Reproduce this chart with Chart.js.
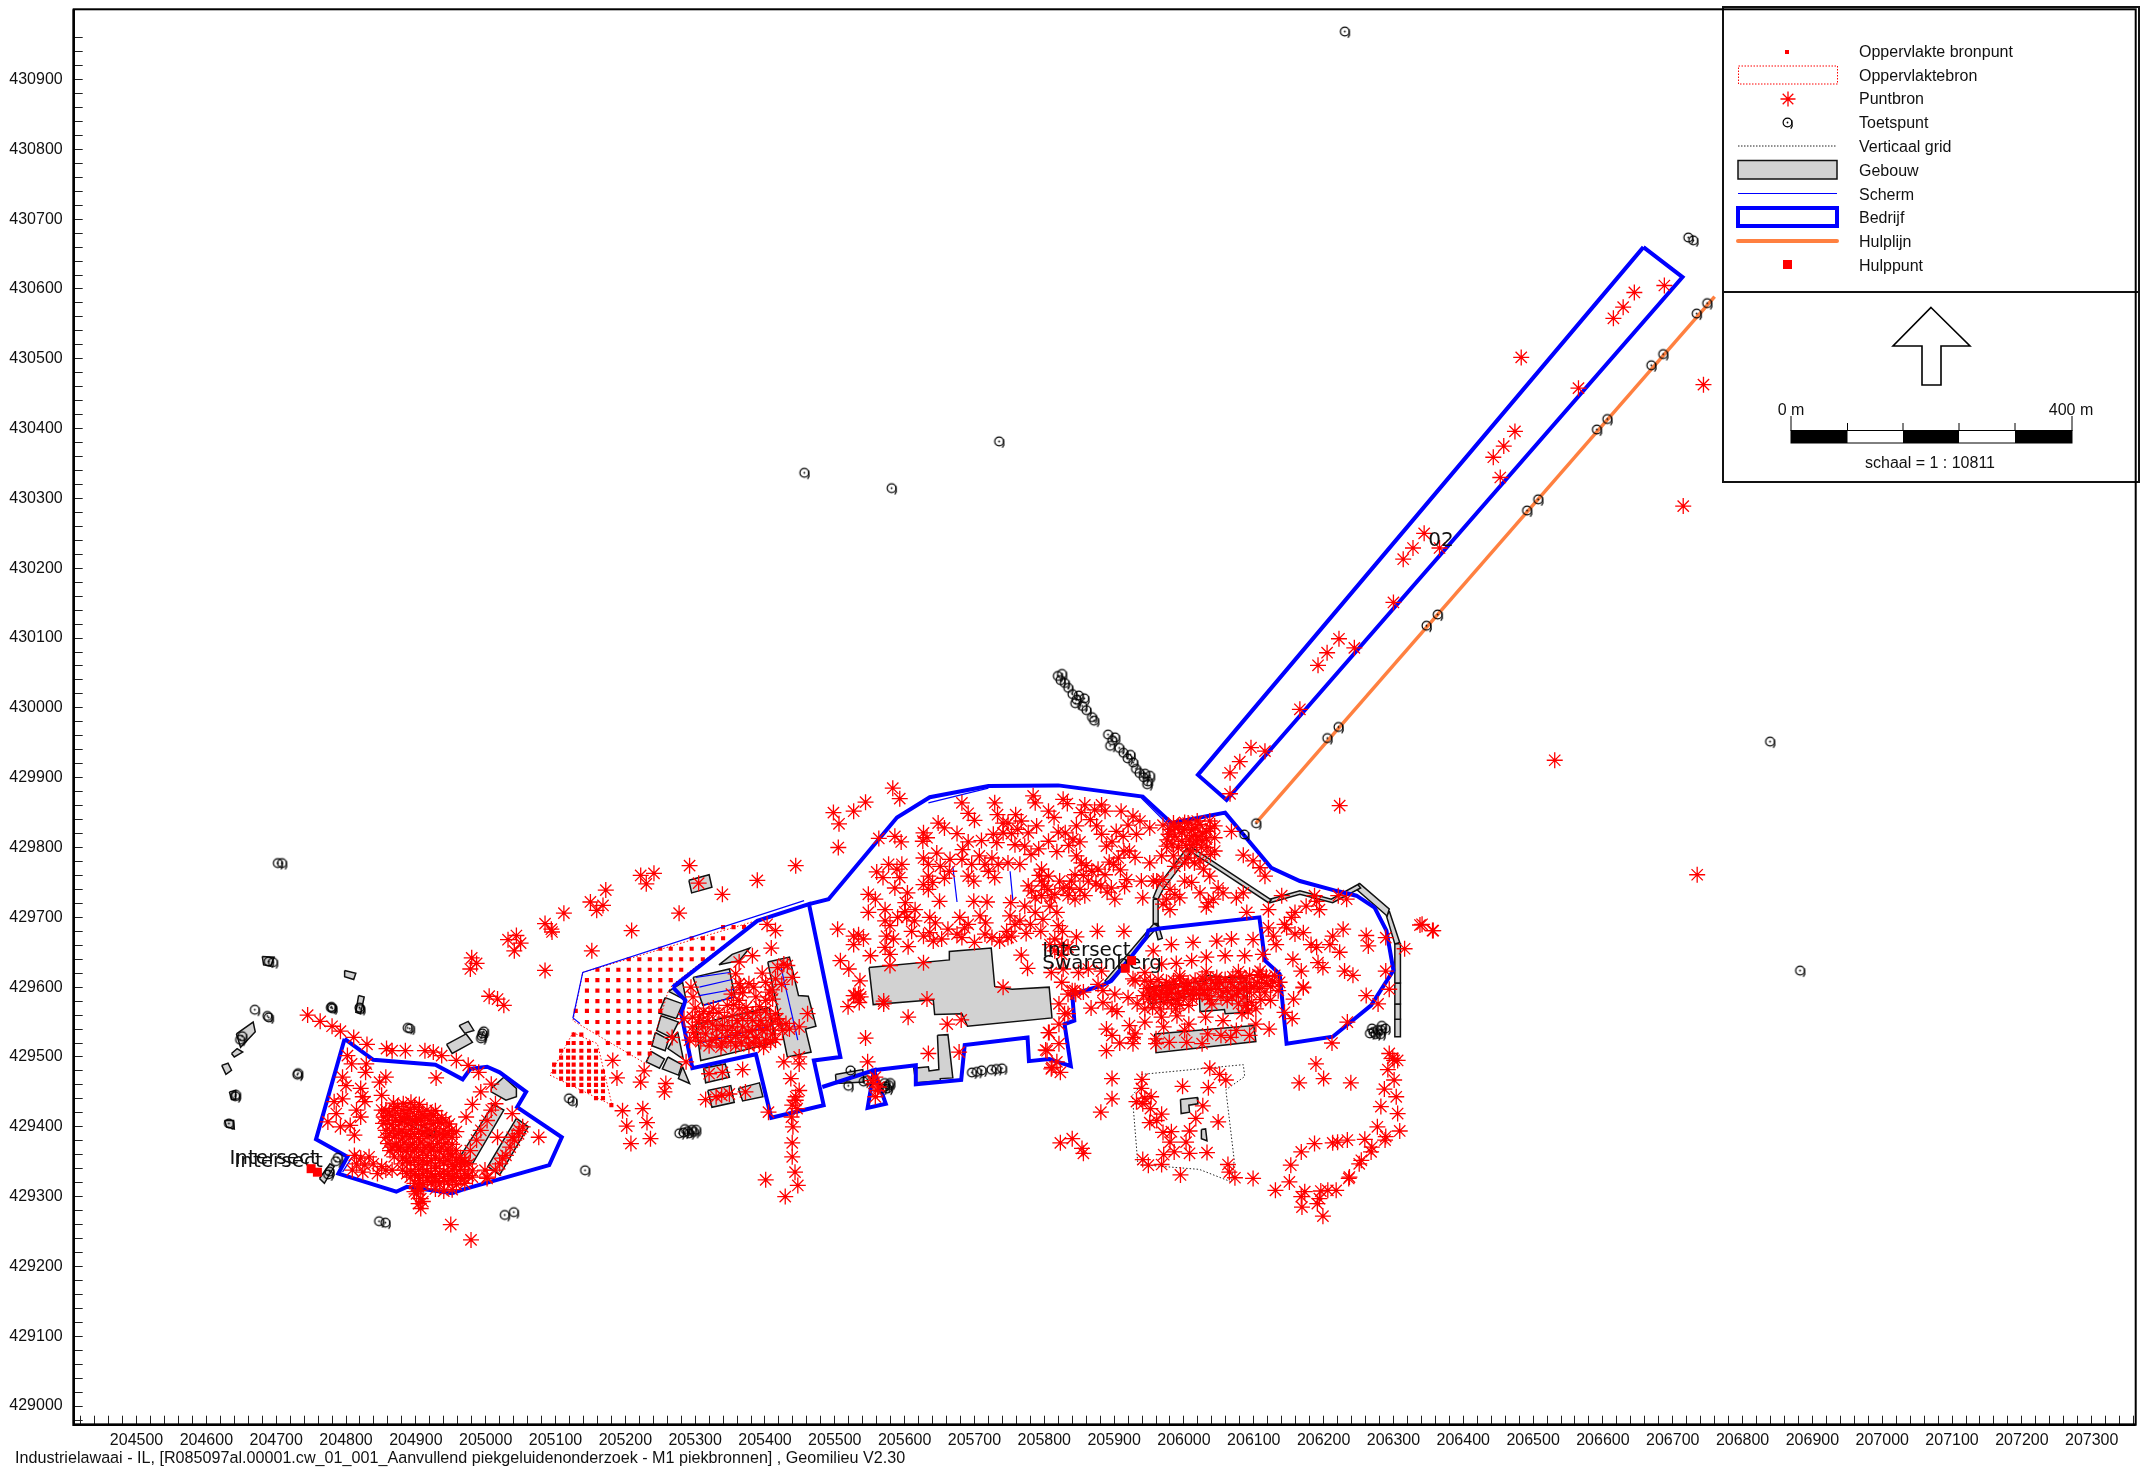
<!DOCTYPE html>
<html>
<head>
<meta charset="utf-8">
<title>Industrielawaai</title>
<script src="https://cdn.jsdelivr.net/npm/chart.js@4/dist/chart.umd.js"></script>
<style>
  html, body { margin: 0; padding: 0; background: #fff; }
  canvas { display: block; }
</style>
</head>
<body>
<canvas id="kaart" width="2145" height="1470"></canvas>
<script>
const xTickEvery = 100;
const yTickEvery = 100;
const yLastTick = 430960;
const footerText = "Industrielawaai - IL, [R085097al.00001.cw_01_001_Aanvullend piekgeluidenonderzoek - M1 piekbronnen] , Geomilieu V2.30";
const legendLabels = ["Oppervlakte bronpunt", "Oppervlaktebron", "Puntbron", "Toetspunt", "Verticaal grid", "Gebouw", "Scherm", "Bedrijf", "Hulplijn", "Hulppunt"];
const mapTexts = ["Intersect", "Intersect", "Intersect", "Swarenberg", "02"];
const mapTextX = [204633, 204640, 205797, 205797, 206350];
const mapTextY = [429347, 429342, 429645, 429626, 430232];

// bedrijf
const bedrijfWest = [[204798,429526],[204839,429496],[204928,429489],[204967,429468],[204978,429483],[205002,429486],[205020,429478],[205058,429450],[205045,429428],[205109,429385],[205091,429345],[204967,429310],[204952,429305],[204887,429314],[204872,429307],[204789,429333],[204802,429357],[204757,429382],[204798,429526]];
const bedrijfMidden = [[205268,429600],[205389,429695],[205463,429719],[205508,429500],[205470,429495],[205484,429431],[205409,429413],[205387,429504],[205296,429484],[205280,429562],[205286,429581],[205268,429600]];
const bedrijfGroot = [[205463,429719],[205491,429726],[205589,429843],[205636,429872],[205720,429888],[205820,429889],[205941,429873],[205982,429835],[206059,429850],[206125,429771],[206166,429752],[206218,429738],[206247,429731],[206273,429714],[206290,429681],[206300,429624],[206268,429574],[206213,429529],[206147,429519],[206137,429619],[206116,429638],[206108,429700],[205965,429684],[205949,429681],[205946,429671],[205920,429638],[205896,429609],[205882,429602],[205840,429590],[205843,429552],[205829,429547],[205838,429487],[205807,429497],[205778,429494],[205776,429528],[205686,429517],[205681,429467],[205616,429461],[205616,429488],[205556,429481],[205573,429433],[205547,429427],[205556,429481],[205482,429457]];
const bedrijfStrook = [[206658,430660],[206714,430617],[206061,429868],[206020,429904],[206658,430660]];
const hulplijn = [[206103,429835],[206760,430589]];

// scherm
const schermLijnen = [
  [[205456,429724],[205139,429621],[205125,429556],[205135,429548]],
  [[205301,429614],[205349,429621]],
  [[205306,429600],[205353,429611]],
  [[205306,429588],[205356,429597]],
  [[205311,429574],[205356,429586]],
  [[205311,429521],[205411,429545]],
  [[205423,429628],[205447,429524]],
  [[205669,429773],[205675,429722]],
  [[205751,429766],[205755,429724]],
  [[205634,429864],[205720,429885]],
  [[205939,429871],[205977,429833],[205975,429795]],
  [[205987,429833],[206044,429848]],
  [[204809,429357],[204795,429335]]
];

// gebouwen
const gebouwen = [
  [[205549,429628],[205664,429639],[205664,429651],[205724,429656],[205729,429601],[205754,429597],[205807,429600],[205811,429556],[205690,429544],[205682,429562],[205643,429561],[205641,429582],[205555,429575]],
  [[205647,429531],[205662,429532],[205669,429470],[205651,429469],[205651,429466],[205616,429463],[205613,429484],[205634,429486],[205635,429480],[205649,429482]],
  [[205501,429475],[205540,429482],[205542,429464],[205502,429462]],
  [[205958,429533],[206100,429545],[206103,429522],[205960,429506]],
  [[205949,429600],[206031,429609],[206032,429617],[206059,429614],[206089,429613],[206092,429564],[206059,429562],[206058,429568],[206023,429565],[206022,429590],[205952,429576]],
  [[205995,429439],[206019,429442],[206020,429433],[206007,429431],[206008,429421],[205996,429419]],
  [[206025,429396],[206031,429397],[206033,429380],[206025,429383]],
  [[206010,429801],[206125,429725],[206121,429721],[206007,429796]],
  [[206123,429726],[206166,429738],[206211,429726],[206249,429747],[206253,429742],[206213,429721],[206166,429733],[206123,429721]],
  [[206251,429749],[206294,429712],[206291,429702],[206247,429740]],
  [[206294,429709],[206309,429664],[206302,429662],[206290,429702]],
  [[206302,429662],[206310,429662],[206310,429606],[206302,429606]],
  [[206302,429606],[206310,429606],[206310,429576],[206302,429576]],
  [[206302,429576],[206310,429576],[206310,429554],[206302,429554]],
  [[206302,429554],[206310,429554],[206310,429529],[206302,429529]],
  [[206004,429799],[206010,429793],[205970,429740],[205963,429726],[205956,429728],[205963,429745]],
  [[205956,429726],[205963,429726],[205963,429691],[205956,429691]],
  [[205957,429691],[205963,429687],[205942,429664],[205890,429606],[205887,429609],[205938,429669]],
  [[205958,429688],[205963,429690],[205969,429670],[205963,429668]],
  [[205404,429636],[205435,429643],[205448,429588],[205462,429587],[205473,429544],[205458,429540],[205466,429507],[205432,429500]],
  [[205297,429614],[205349,429626],[205357,429586],[205311,429574]],
  [[205301,429547],[205406,429571],[205416,429521],[205308,429495]],
  [[205334,429632],[205353,429647],[205378,429656],[205363,429638]],
  [[205291,429753],[205320,429761],[205324,429743],[205295,429735]],
  [[205262,429594],[205282,429607],[205287,429581]],
  [[205257,429585],[205282,429576],[205273,429555],[205248,429563]],
  [[205251,429559],[205276,429550],[205265,429528],[205245,429538]],
  [[205243,429535],[205262,429525],[205257,429509],[205238,429516]],
  [[205237,429508],[205256,429497],[205249,429484],[205230,429493]],
  [[205261,429500],[205281,429489],[205276,429474],[205253,429483]],
  [[205275,429536],[205283,429497],[205261,429512]],
  [[205282,429486],[205292,429462],[205276,429469]],
  [[205312,429484],[205343,429490],[205349,429471],[205315,429463]],
  [[205318,429452],[205351,429459],[205356,429435],[205324,429428]],
  [[205362,429455],[205392,429463],[205397,429443],[205368,429437]],
  [[204944,429518],[204972,429533],[204981,429521],[204952,429505]],
  [[204962,429545],[204975,429551],[204983,429538],[204970,429534]],
  [[205008,429455],[205026,429471],[205044,429455],[205044,429443],[205029,429438],[205008,429450]],
  [[205011,429432],[205026,429424],[204981,429347],[204962,429355]],
  [[205044,429412],[205061,429400],[205020,429331],[205003,429343]],
  [[204880,429415],[204928,429392],[204925,429385],[204878,429409]],
  [[204798,429624],[204814,429620],[204811,429611],[204798,429615]],
  [[204680,429644],[204697,429643],[204692,429630],[204682,429632]],
  [[204818,429588],[204826,429586],[204821,429562],[204814,429564]],
  [[204643,429533],[204667,429550],[204670,429536],[204649,429514]],
  [[204636,429505],[204644,429512],[204652,429507],[204640,429500]],
  [[204622,429488],[204631,429491],[204636,429481],[204628,429475]],
  [[204633,429450],[204642,429452],[204642,429439],[204636,429439]],
  [[204626,429409],[204639,429409],[204640,429397],[204629,429400]],
  [[204762,429326],[204777,429347],[204783,429343],[204769,429319]]
];

const verticaalGrid = [[205939,429475],[206085,429489],[206087,429472],[206060,429453],[206072,429352],[206068,429321],[206022,429339],[205934,429346],[205926,429445],[205939,429460],[205939,429475]];
const oppervlakBron1 = [[205139,429621],[205387,429695],[205268,429604],[205261,429593],[205230,429490],[205125,429552],[205139,429621]];
const oppervlakBron2 = [[205125,429535],[205160,429519],[205181,429431],[205092,429474],[205125,429535]];

const bronpuntRijY = [429686,429670,429655,429640,429625,429610,429595,429580,429566,429550,429535,429520,429505,429532,429520,429509,429499,429489,429479,429469,429460,429451,429441,429431];
const bronpuntRijX = [
  [205340,205355,205370],
  [205295,205311,205325,205340],
  [205250,205265,205280,205295,205311,205325],
  [205205,205220,205235,205250,205265,205280,205295,205311],
  [205160,205175,205190,205205,205220,205235,205250,205265,205280],
  [205145,205160,205175,205190,205205,205220,205235,205250,205265],
  [205145,205160,205175,205190,205205,205220,205235,205250],
  [205145,205160,205175,205190,205205,205220,205235,205250],
  [205129,205145,205160,205175,205190,205205,205220,205235,205250],
  [205145,205160,205175,205190,205205,205220,205235],
  [205160,205175,205190,205205,205220,205235],
  [205175,205190,205205,205220,205235],
  [205205,205220,205235],
  [205126,205137],
  [205118,205126,205137,205148],
  [205108,205118,205126,205137,205148,205158],
  [205108,205118,205126,205137,205148,205158],
  [205098,205108,205118,205126,205137,205148,205158],
  [205098,205108,205118,205126,205137,205148,205158,205168],
  [205108,205118,205126,205137,205148,205158,205168],
  [205118,205126,205137,205148,205158,205168],
  [205137,205148,205158,205168],
  [205158,205168],
  [205180]
];

const hulppunten = [[205925,429638],[205916,429627],[204750,429340],[204759,429335]];

const toetspunten = [
  [206750,430579],[206735,430564],[206687,430506],[206670,430490],[206607,430413],[206592,430398],[206508,430298],[206492,430282],[206364,430133],[206348,430117],[206222,429972],[206206,429956],[206723,430673],[206730,430669],[206104,429834],[206087,429818],
  [206231,430968],[205736,430381],[205457,430336],[205582,430314],[206840,429951],[206883,429623],
  [205820,430045],[205824,430039],[205826,430048],[205830,430035],[205835,430028],[205841,430019],[205845,430006],[205847,430011],[205850,430017],[205855,430002],[205858,430013],[205861,429996],[205869,429986],[205872,429981],[205892,429961],[205895,429945],[205898,429953],[205902,429957],[205908,429942],[205914,429935],[205920,429927],[205924,429932],[205928,429921],[205932,429912],[205937,429906],[205943,429900],[205945,429905],[205948,429890],[205949,429894],[205952,429902],
  [204703,429777],[204709,429777],[204690,429636],[204696,429635],[204780,429571],[204781,429569],[204779,429570],[204820,429570],[204821,429568],[204670,429567],[204688,429558],[204690,429556],[204889,429541],[204892,429540],[204649,429524],[204652,429529],[204732,429476],[204731,429474],[204643,429445],[204642,429443],[204633,429404],[204996,429533],[204995,429529],[204998,429536],[204994,429526],[204789,429355],[204786,429350],[204777,429335],[204775,429331],[204848,429264],[204857,429262],[205028,429273],[205041,429277],[205120,429440],[205125,429436],[205143,429337],[205290,429393],[205284,429391],[205296,429395],[205278,429390],[205302,429395],[205292,429390],[205299,429392],[205286,429396],
  [205523,429480],[205520,429458],[205542,429464],[205547,429466],[205573,429457],[205578,429459],[205580,429462],[205568,429454],[205576,429454],[205572,429462],[205697,429477],[205704,429478],[205711,429480],[205725,429481],[205732,429482],[205740,429483],
  [206272,429535],[206278,429538],[206283,429538],[206289,429540],[206267,429533],[206275,429532],[206282,429532],[206270,429540],[206284,429544]
];

// puntbronnen
const puntbronStrook = [[206483,430502],[206744,430463],[206715,430289],[206531,429925],[206223,429860],[206688,430605],[206645,430595],[206629,430574],[206615,430558],[206565,430458],[206474,430396],[206458,430375],[206443,430359],[206453,430330],[206344,430250],[206328,430229],[206314,430213],[206366,430229],[206300,430151],[206222,430099],[206205,430079],[206192,430061],[206244,430086],[206166,429998],[206116,429938],[206096,429943],[206080,429923],[206066,429907],[206066,429877],[206735,429761],[206338,429689],[206356,429681]];

const puntbronWest = [[205112,429706],[205085,429691],[205094,429683],[205095,429679],[205044,429674],[205032,429668],[205050,429663],[205041,429652],[204980,429642],[204987,429634],[204978,429626],[205277,429706],[205209,429681],[205152,429652],[205085,429624],[205005,429587],[205017,429583],[205026,429574],[205168,429717],[205159,429710],[205150,429722],
  [204745,429560],[204763,429551],[204780,429544],[204792,429537],[204811,429528],[204830,429518],[204858,429512],[204866,429509],[204885,429509],[204913,429509],[204925,429507],[204937,429502],[204958,429495],[204975,429488],[204990,429478],
  [204802,429502],[204808,429490],[204829,429490],[204828,429478],[204857,429471],[204848,429464],[204795,429471],[204800,429459],[204821,429455],[204824,429443],[204827,429436],[204851,429445],[204795,429440],[204783,429436],[204815,429424],[204821,429414],[204851,429424],[204774,429407],[204786,429419],[204792,429400],[204806,429402],[204812,429388],[204929,429470],[205008,429461],[204993,429450],[204981,429432],[204972,429414],[205038,429419],[205014,429433],[205017,429385],[205076,429385],[204958,429393],
  [204904,429314],[204901,429304],[204907,429297],[204904,429290],[204907,429283],[204898,429307],[204910,429293],
  [204821,429355],[204833,429357],[204815,429347],[204827,429345],[204839,429347],[204851,429343],[204809,429338],[204824,429335],[204845,429333],[204857,429338],[204812,429359],[204866,429338],
  [204950,429260],[204979,429238],
  [205008,429424],[205002,429409],[204993,429395],[204987,429381],[204978,429366],[204970,429352],[205053,429400],[205047,429390],[205041,429381],[205035,429371],[205029,429359],[205020,429347],[205014,429338],[205048,429395],[205038,429385],[205024,429355],
  [204981,429328],[205002,429328],[204970,429333],[204955,429343],[204970,429347]];

const puntbronBlob = [[204868,429434],[204882,429433],[204893,429435],[204905,429432],
  [204857,429424],[204869,429426],[204880,429423],[204892,429425],[204904,429422],[204916,429424],[204928,429423],
  [204854,429414],[204866,429416],[204878,429413],[204889,429415],[204901,429412],[204913,429414],[204925,429416],[204937,429413],
  [204853,429405],[204866,429403],[204877,429406],[204889,429404],[204901,429407],[204913,429403],[204925,429405],[204936,429406],[204948,429404],
  [204857,429395],[204868,429397],[204880,429394],[204893,429396],[204904,429393],[204916,429395],[204928,429397],[204940,429394],[204951,429395],
  [204857,429385],[204870,429387],[204881,429384],[204892,429386],[204904,429383],[204916,429386],[204929,429384],[204940,429387],[204952,429385],
  [204860,429376],[204872,429374],[204883,429377],[204895,429375],[204907,429378],[204919,429374],[204931,429376],[204943,429377],[204952,429375],
  [204863,429366],[204875,429368],[204886,429365],[204898,429367],[204910,429364],[204922,429367],[204934,429365],[204946,429368],[204958,429366],
  [204869,429357],[204881,429355],[204892,429358],[204904,429356],[204916,429359],[204928,429355],[204940,429357],[204952,429358],[204964,429356],
  [204881,429347],[204892,429349],[204904,429346],[204916,429348],[204928,429345],[204940,429348],[204952,429346],[204964,429349],[204976,429347],
  [204881,429338],[204893,429336],[204904,429339],[204916,429337],[204928,429340],[204940,429336],[204952,429338],[204964,429339],[204981,429337],[204999,429338],
  [204892,429328],[204904,429330],[204916,429327],[204928,429329],[204940,429326],[204952,429329],[204964,429327],[204975,429330],[205002,429326],
  [204898,429319],[204910,429317],[204922,429320],[204934,429318],[204946,429321],[204958,429317],[204970,429319],
  [204904,429309],[204928,429311],[204940,429308],[204952,429310],
  [204862,429420],[204874,429429],[204886,429419],[204898,429428],[204910,429418],[204922,429419],[204859,429409],[204871,429410],[204884,429409],[204895,429410],[204907,429409],[204919,429409],[204931,429410],[204943,429408],[204862,429390],[204875,429391],[204886,429390],[204898,429389],[204910,429390],[204922,429391],[204934,429389],[204946,429390],[204866,429371],[204878,429371],[204889,429371],[204901,429370],[204913,429371],[204925,429370],[204937,429371],[204950,429361],[204887,429352],[204898,429352],[204910,429351],[204922,429352],[204934,429352],[204946,429352],[204958,429352],[204887,429333],[204899,429333],[204910,429333],[204922,429333],[204934,429332],[204946,429333],[204958,429333],[204970,429326],[204905,429323],[204917,429323],[204929,429322],[204941,429323],[204953,429323]];

const puntbronBlok = [[205292,429774],[205444,429774],[205389,429753],[205241,429763],[205222,429760],[205230,429748],[205172,429739],[205339,429733],[205305,429749],
  [205182,429495],[205188,429470],[205227,429480],[205222,429464],[205258,429462],[205256,429450],[205196,429423],[205225,429426],[205202,429401],[205231,429406],[205208,429376],[205236,429383],
  [205403,429690],[205415,429681],[205409,429656],[205382,429645],[205363,429636],[205358,429619],[205363,429605],
  [205294,429600],[205297,429586],[205284,429555],[205267,429528],[205287,429493],[205365,429600],[205377,429605],[205401,429607],[205415,429612],[205432,429631],[205439,429614],[205418,429628],[205427,429633],[205406,429593],[205401,429581],[205411,429583],[205387,429586],[205363,429581],[205346,429574],[205363,429569],[205373,429571],[205387,429564],[205401,429566],[205415,429562],
  [205296,429557],[205306,429557],[205320,429562],[205334,429564],[205353,429559],[205368,429555],[205382,429552],[205394,429552],[205408,429547],[205420,429547],[205296,429543],[205311,429543],[205325,429547],[205339,429545],[205353,429543],[205368,429543],[205382,429538],[205396,429538],[205411,429533],[205425,429538],[205301,429528],[205315,429533],[205330,429528],[205344,429528],[205358,429531],[205373,429528],[205387,429528],[205401,429524],[205292,429524],[205320,429516],[205337,429514],[205358,429516],[205377,429516],[205392,429519],[205408,429521],
  [205461,429562],[205435,429540],[205449,429543],[205449,429500],[205427,429493],[205449,429490],[205437,429469],[205449,429452],[205444,429443],[205439,429431],[205444,429438],[205446,429426],[205405,429421],[205440,429400],[205439,429377],[205439,429357],[205443,429335],[205447,429316],[205429,429300],[205401,429324],[205438,429414],
  [205368,429482],[205320,429476],[205339,429478],[205315,429439],[205330,429443],[205338,429445],[205349,429447],[205372,429450],
  [205519,429572],[205527,429588],[205537,429586],[205535,429578],[205570,429576],[205605,429557],[205661,429547],[205681,429553],[205544,429527],[205547,429493],[205558,429471],[205556,429462],[205561,429452],[205558,429443],[205563,429457],[205554,429466],[205634,429505],[205678,429507],[205806,429535],[205802,429510],[205811,429485],
  [205300,429570],[205312,429565],[205326,429570],[205342,429557],[205360,429552],[205375,429562],[205392,429572],[205408,429556],[205305,429550],[205318,429552],[205331,429540],[205346,429538],[205361,429535],[205376,429537],[205391,429545],[205403,429540],[205418,429555],[205298,429535],[205308,429522],[205324,429524],[205338,429520],[205351,429522],[205366,429520],[205384,429520],[205398,429514],[205415,429525],[205430,429548],[205352,429590],[205368,429592],[205384,429600],[205396,429620],[205410,429596],[205424,429604],[205355,429575]];

const puntbronNoord = [[205583,429885],[205593,429870],[205544,429865],[205527,429852],[205498,429850],[205506,429834],[205505,429800],[205563,429813],[205586,429816],[205595,429808],[205627,429821],[205626,429809],[205632,429814],[205648,429835],[205657,429828],[205682,429864],[205691,429849],[205700,429839],[205675,429820],[205691,429808],[205683,429797],[205646,429792],[205627,429785],[205634,429776],[205651,429773],[205665,429783],[205682,429783],[205696,429776],[205691,429759],[205699,429752],[205715,429776],[205725,429785],[205734,429776],[205748,429778],[205765,429776],[205720,429766],[205729,429757],
  [205577,429776],[205596,429776],[205560,429765],[205569,429757],[205589,429769],[205593,429757],[205586,429742],[205604,429735],[205548,429733],[205558,429726],[205548,429707],[205572,429711],[205601,429721],[205615,429711],[205603,429700],[205614,429695],[205572,429695],[205579,429688],[205574,429673],[205584,429669],[205572,429657],[205579,429647],[205605,429658],[205627,429747],[205634,429740],[205634,429759],[205636,429700],[205644,429692],[205650,429723],[205627,429673],[205636,429678],[205641,429666],[205653,429669],[205675,429676],[205682,429671],[205679,429700],[205691,429690],[205686,429685],[205699,429723],[205718,429722],[205708,429702],[205716,429692],[205715,429676],[205725,429671],[205748,429671],[205753,429673],[205746,429680],[205774,429677],[205751,429702],[205765,429695],[205772,429716],[205752,429721],
  [205787,429707],[205798,429697],[205818,429707],[205808,429716],[205796,429731],[205782,429738],[205777,429745],[205796,429752],[205815,429733],[205796,429769],[205806,429759],[205827,429742],[205851,429740],[205834,429731],[205844,429726],[205858,429731],[205901,429726],[205941,429728],[205896,429742],[205918,429754],[205887,429761],[205877,429769],[205844,429761],[205853,429778],[205846,429788],[205868,429766],[205906,429785],[205899,429776],[205930,429786],[205922,429795],[205951,429778],[205939,429752],[205956,429752],
  [205729,429864],[205733,429847],[205741,429835],[205759,429847],[205767,429838],[205727,429819],[205732,429807],[205741,429821],[205758,429804],[205777,429821],[205772,429802],[205781,429790],[205784,429874],[205787,429864],[205789,429831],[205806,429852],[205814,429843],[205806,429809],[205818,429794],[205827,429869],[205833,429863],[205846,429831],[205830,429821],[205841,429812],[205858,429861],[205872,429854],[205882,429861],[205887,429852],[205875,429831],[205882,429819],[205889,429802],[205910,429852],[205927,429845],[205937,429838],[205951,429828],[205903,429823],[205913,429816],[205932,429819],
  [205820,429688],[205826,429680],[205846,429672],[205876,429680],[205914,429680],[205767,429646],[205776,429627],[205504,429683],[205527,429673],[205534,429675],[205541,429669],[205527,429661],[205551,429645],[205508,429638],[205520,429626],[205536,429609],[205529,429588],[205534,429590],[205579,429631],[205627,429635],[205741,429600],[205632,429583],[205570,429580],
  [205815,429669],[205825,429661],[205808,429661],[205815,429652],[205825,429647],[205834,429657],[205810,429621],[205827,429626],[205849,429621],[205863,429626],[205882,429623],[205825,429607],[205844,429595],[205877,429604],[205901,429590],[205930,429609],[205944,429621],[205956,429652],
  [205793,429760],[205800,429745],[205787,429728],[205805,429740],[205810,429728],[205822,429752],[205836,429742],[205839,429752],[205860,429774],[205856,429760],[205863,429752],[205874,429748],[205881,429745],[205890,429736],[205909,429768],[205915,429744],[205893,429779],[205914,429795],[205897,429808],[205920,429832],[205753,429820],[205748,429835],[205762,429826],[205792,429798],[205820,429822],[205835,429803],[205851,429808],[205866,429840],[205853,429850],[205710,429810],[205707,429788],[205657,429756],[205664,429766],[205640,429750],[205600,429708],[205610,429680],[205590,429700],[205662,429683],[205700,429664],[205736,429666],[205758,429690],[205780,429690],[205795,429680]];

const puntbronOost = [[205980,429826],[205987,429816],[205997,429821],[206006,429835],[206016,429828],[206023,429833],[206032,429823],[206044,429831],[205997,429809],[206008,429812],[206020,429816],[206032,429812],[206044,429814],[206044,429795],[205987,429828],[206013,429804],[206025,429800],[205978,429819],[206001,429826],[206037,429838],[206068,429823],[206085,429789],[206099,429781],[206116,429759],[206109,429771],[205968,429788],[205985,429788],[205975,429802],[205987,429773],[206001,429778],[206023,429781],[206037,429759],[206028,429769],
  [205961,429752],[205970,429754],[205980,429740],[205987,429733],[205994,429728],[205975,429726],[205980,429711],[205970,429719],[206001,429752],[206011,429750],[206023,429735],[206035,429721],[206032,429715],[206042,429726],[206049,429742],[206056,429735],[206075,429728],[206085,429735],[206090,429707],[206121,429711],[206140,429731],[206144,429690],[206154,429700],[206147,429685],[206159,429676],[206187,429731],[206175,429716],[206194,429711],[206190,429723],[206121,429685],[206128,429673],[206132,429661],[206171,429678],[206182,429661],[206190,429657],[206159,429707],[206213,429673],[206209,429661],[206228,429683],[206223,429650],[206230,429623],[206199,429628],[206192,429635],[206156,429640],[206168,429623],[206171,429599],[206221,429731],[206233,429726],
  [205982,429661],[206013,429664],[206047,429666],[206068,429669],[206099,429668],[206113,429647],[206032,429643],[206059,429645],[206087,429645],[205989,429634],[206011,429638],[205968,429633],[205994,429616],[206032,429622],[206078,429622],[206109,429623],
  [206242,429617],[206261,429674],[206264,429659],[206289,429671],[206289,429623],[206316,429655],[206341,429690],[206357,429681],[206261,429588],[206278,429576],[206294,429597],[206234,429550],[206212,429520],[206144,429564],[206155,429555],[206157,429583],[206171,429600],
  [205985,429835],[205992,429830],[206001,429836],[206011,429825],[206019,429838],[206027,429821],[206038,429827],[205983,429805],[205992,429800],[206003,429803],[206010,429795],[206018,429808],[206033,429800],[206038,429790],[205970,429832],[205976,429811],[206014,429817],[206026,429810],[206006,429785],[206015,429778]];

const puntbronBand = [[205949,429583],[205960,429590],[205971,429578],[205982,429593],[205990,429581],[206001,429595],[206012,429583],[206023,429600],[206034,429588],[206045,429605],[206056,429593],[206067,429607],[206078,429595],[206089,429612],[206100,429600],[206111,429614],[206119,429605],[206130,429617],[206086,429586],[206097,429578],[206078,429576],[206103,429569],[206092,429566],[205944,429569],[205955,429571],[205966,429569],[205977,429590],[205988,429569],[205999,429605],[206007,429574],[206018,429590],[206029,429605],[206040,429576],[206051,429607],[206062,429581],[206072,429600],[206083,429607],[206094,429593],[206105,429607],[206116,429593],[206124,429581],[206135,429595],[206127,429609],[205933,429576],[205960,429600],[205974,429600],[205988,429600],[205949,429593],[205966,429586],[205982,429576],[205999,429586],[206026,429590],[206053,429586],
  [205867,429570],[205884,429578],[205920,429585],[205904,429565],[205897,429569],[205884,429595],[205856,429593],[205840,429595],[205889,429540],[205897,429531],[205908,429520],[205889,429509],[205927,429528],[205930,429533],[205922,429545],[205944,429550],[205927,429519],[205960,429519],[205979,429521],[205971,429543],[206004,429521],[206007,429547],[205990,429559],[206031,429557],[206034,429533],[206056,429552],[206067,429528],[206075,429538],[206094,429531],[206122,429540],[206083,429562],[206103,429547],[206053,429531],[205960,429526],[205968,429557],[206001,429538],[206026,429519],[205927,429612],[205944,429609],
  [205821,429576],[205834,429590],[205829,429562],[205821,429547],[205834,429562],[205807,429535],[205804,429509],[205821,429519],[205818,429493],[205823,429478],[205810,429483],[205845,429590],
  [205952,429608],[205963,429611],[205975,429607],[205985,429609],[205994,429612],[206006,429606],[206016,429610],[206026,429613],[206038,429611],[206047,429614],[206059,429611],[206070,429615],[206081,429616],[206094,429617],[206106,429618],[206118,429615],[205947,429598],[205957,429596],[205968,429595],[205979,429598],[205992,429591],[206004,429601],[206014,429597],[206029,429595],[206039,429597],[206049,429598],[206062,429595],[206075,429590],[206086,429598],[206096,429601],[206108,429598],[206124,429601],[205942,429588],[205957,429582],[205976,429585],[205994,429575],[206009,429590],[206037,429582],[206069,429586],[206089,429574],[206110,429582],[206137,429607]];

const puntbronZuid = [[205897,429469],[205897,429440],[205881,429421],[205823,429377],[205840,429383],[205854,429369],[205856,429362],
  [205940,429468],[205939,429455],[205953,429443],[205944,429441],[205932,429436],[205941,429433],[205952,429426],[205968,429418],[205951,429406],[205961,429409],[205982,429393],[205970,429392],[206008,429394],[206017,429412],[206027,429430],[206037,429484],[206051,429475],[206060,429467],[205998,429458],[206035,429456],[206049,429407],[206003,429378],[205980,429378],[205986,429364],[205971,429360],[206008,429362],[206033,429363],[205941,429353],[205949,429345],[205968,429346],[205995,429331],[206063,429346],[206065,429335],[206073,429327],[206099,429326],
  [206131,429309],[206151,429321],[206153,429345],[206168,429364],[206187,429376],[206213,429377],[206220,429378],[206234,429381],[206259,429382],[206269,429371],[206268,429364],[206288,429381],[206289,429386],[206277,429400],[206251,429347],[206254,429352],[206236,429326],[206237,429328],[206218,429309],[206206,429309],[206196,429308],[206194,429297],[206191,429290],[206173,429307],[206168,429300],[206169,429285],[206199,429272],
  [206189,429490],[206200,429469],[206165,429463],[206239,429463],[206287,429454],[206304,429443],[206282,429429],[206306,429419],[206309,429394],[206301,429467],[206292,429482],[206299,429498],[206294,429505],[206301,429495],[206306,429495]];

const toXY = (pts) => pts.map((p) => ({ x: p[0], y: p[1] }));

// toetspunt symbool: cirkel met stip en staartje
function maakToetspunt() {
  const c = document.createElement("canvas");
  c.width = 14;
  c.height = 14;
  const g = c.getContext("2d");
  g.strokeStyle = "#000";
  g.fillStyle = "#000";
  g.lineWidth = 1.2;
  g.beginPath();
  g.arc(6.5, 6.5, 4.4, 0, Math.PI * 2);
  g.stroke();
  g.beginPath();
  g.arc(6.5, 6.5, 0.9, 0, Math.PI * 2);
  g.fill();
  g.beginPath();
  g.moveTo(10.7, 4);
  g.lineTo(11.2, 10);
  g.lineTo(9.7, 12.7);
  g.stroke();
  return c;
}
const toetsIcoon = maakToetspunt();

function polyDataset(pts, color, width, order, extra) {
  return Object.assign({
    data: toXY(pts),
    showLine: true,
    fill: false,
    borderColor: color,
    borderWidth: width,
    borderJoinStyle: "miter",
    pointRadius: 0,
    tension: 0,
    order: order,
  }, extra || {});
}

function pointDataset(pts, style, radius, color, lineWidth, order) {
  return {
    data: toXY(pts),
    showLine: false,
    pointStyle: style,
    pointRadius: radius,
    pointBackgroundColor: color,
    pointBorderColor: color,
    pointBorderWidth: lineWidth,
    order: order,
  };
}

const bronpunten = bronpuntRijY.flatMap((y, i) => bronpuntRijX[i].map((x) => [x, y]));
const alleSterren = [].concat(puntbronStrook, puntbronWest, puntbronBlob, puntbronBlok, puntbronNoord, puntbronOost, puntbronBand, puntbronZuid);

const datasets = [];
gebouwen.forEach((g) => {
  datasets.push(polyDataset(g.concat([g[0]]), "#111", 1.5, 90, { fill: "shape", backgroundColor: "#d2d2d2" }));
});
datasets.push(polyDataset(verticaalGrid, "#222", 1, 80, { borderDash: [1.5, 2] }));
datasets.push(polyDataset(oppervlakBron1, "#ff0000", 1, 75, { borderDash: [1.5, 2] }));
datasets.push(polyDataset(oppervlakBron2, "#ff0000", 1, 75, { borderDash: [1.5, 2] }));
datasets.push(pointDataset(bronpunten, "rect", 2.9, "#ff0000", 0, 70));
schermLijnen.forEach((s) => datasets.push(polyDataset(s, "#0000ff", 1.2, 60)));
[bedrijfWest, bedrijfMidden, bedrijfGroot, bedrijfStrook].forEach((b) => {
  datasets.push(polyDataset(b, "#0000ff", 4, 50));
});
datasets.push(polyDataset(hulplijn, "#ff8040", 3.5, 40));
datasets.push(pointDataset(toetspunten, toetsIcoon, 7, "#000", 0, 30));
datasets.push(pointDataset(alleSterren, "star", 8, "#ff0000", 1.3, 20));

const ROW_Y = [52, 76, 99, 123, 146, 170, 194, 217, 241, 265];
const TEXT_Y = [52.5, 76.5, 99.5, 123.5, 147.5, 171.5, 195.5, 218.5, 242.5, 266.5];

// kaartteksten, kader, legenda en schaalbalk
const kaartPlugin = {
  id: "kaart",
  afterDatasetsDraw(chart) {
    const ctx = chart.ctx;
    const { x, y } = chart.scales;
    ctx.save();
    ctx.fillStyle = "#111";
    ctx.font = "20px 'DejaVu Sans'";
    ctx.textAlign = "left";
    ctx.textBaseline = "alphabetic";
    mapTexts.forEach((t, i) => ctx.fillText(t, x.getPixelForValue(mapTextX[i]), y.getPixelForValue(mapTextY[i])));
    hulppunten.forEach((p) => {
      ctx.fillStyle = "#ff0000";
      ctx.fillRect(x.getPixelForValue(p[0]) - 4.5, y.getPixelForValue(p[1]) - 4.5, 9, 9);
    });

    // paneel
    ctx.fillStyle = "#fff";
    ctx.fillRect(1723, 7, 416, 475);
    ctx.strokeStyle = "#111";
    ctx.lineWidth = 2;
    ctx.strokeRect(1723, 7, 416, 475);
    ctx.beginPath();
    ctx.moveTo(1723, 292);
    ctx.lineTo(2139, 292);
    ctx.stroke();

    // kader
    const a = chart.chartArea;
    ctx.lineWidth = 2;
    ctx.strokeStyle = "#000";
    ctx.strokeRect(a.left, a.top, a.right - a.left, a.bottom - a.top);
    ctx.lineWidth = 2.5;
    ctx.beginPath();
    ctx.moveTo(a.left, a.top);
    ctx.lineTo(a.left, a.bottom);
    ctx.lineTo(a.right, a.bottom);
    ctx.stroke();

    // legenda
    ctx.font = "16px 'Liberation Sans'";
    ctx.fillStyle = "#111";
    ctx.textBaseline = "middle";
    legendLabels.forEach((t, i) => ctx.fillText(t, 1859, TEXT_Y[i]));
    ctx.fillStyle = "#ff0000";
    ctx.fillRect(1785, ROW_Y[0] - 2, 4, 4);
    ctx.strokeStyle = "#ff0000";
    ctx.lineWidth = 1;
    ctx.setLineDash([1.5, 1.5]);
    ctx.strokeRect(1738.5, 66, 99, 18);
    ctx.setLineDash([]);
    ctx.lineWidth = 1.3;
    ctx.beginPath();
    [[7.5, 0], [0, 7.5], [5.3, 5.3], [5.3, -5.3]].forEach((d) => {
      ctx.moveTo(1788 - d[0], ROW_Y[2] - d[1]);
      ctx.lineTo(1788 + d[0], ROW_Y[2] + d[1]);
    });
    ctx.stroke();
    ctx.drawImage(toetsIcoon, 1781, ROW_Y[3] - 7);
    ctx.strokeStyle = "#222";
    ctx.lineWidth = 1;
    ctx.setLineDash([1.5, 1.5]);
    ctx.beginPath();
    ctx.moveTo(1738, ROW_Y[4]);
    ctx.lineTo(1837, ROW_Y[4]);
    ctx.stroke();
    ctx.setLineDash([]);
    ctx.fillStyle = "#d2d2d2";
    ctx.fillRect(1738, 160.5, 99, 18.5);
    ctx.strokeStyle = "#111";
    ctx.lineWidth = 1.5;
    ctx.strokeRect(1738, 160.5, 99, 18.5);
    ctx.strokeStyle = "#0000ff";
    ctx.lineWidth = 1.2;
    ctx.beginPath();
    ctx.moveTo(1738, ROW_Y[6] - 0.5);
    ctx.lineTo(1837, ROW_Y[6] - 0.5);
    ctx.stroke();
    ctx.lineWidth = 4;
    ctx.strokeRect(1738, 208, 99, 18);
    ctx.strokeStyle = "#ff8040";
    ctx.lineCap = "round";
    ctx.beginPath();
    ctx.moveTo(1738, ROW_Y[8]);
    ctx.lineTo(1837, ROW_Y[8]);
    ctx.stroke();
    ctx.lineCap = "butt";
    ctx.fillStyle = "#ff0000";
    ctx.fillRect(1783, 260, 9, 9);

    // noordpijl
    ctx.strokeStyle = "#000";
    ctx.lineWidth = 1.6;
    ctx.beginPath();
    ctx.moveTo(1931, 307.5);
    ctx.lineTo(1970, 346);
    ctx.lineTo(1941, 346);
    ctx.lineTo(1941, 385);
    ctx.lineTo(1922, 385);
    ctx.lineTo(1922, 346);
    ctx.lineTo(1893, 346);
    ctx.closePath();
    ctx.stroke();

    // schaalbalk
    const balk = [1791, 1847.5, 1903, 1959, 2015, 2072];
    ctx.strokeStyle = "#000";
    ctx.lineWidth = 1;
    ctx.strokeRect(1791, 430.5, 281, 12.5);
    ctx.fillStyle = "#000";
    [0, 2, 4].forEach((i) => ctx.fillRect(balk[i], 430, balk[i + 1] - balk[i], 13));
    balk.forEach((b, i) => {
      ctx.lineWidth = 1;
      ctx.beginPath();
      ctx.moveTo(b, i === 0 || i === 5 ? 416 : 423);
      ctx.lineTo(b, 431);
      ctx.stroke();
    });
    ctx.fillStyle = "#111";
    ctx.textAlign = "center";
    ctx.fillText("0 m", 1791, 411);
    ctx.fillText("400 m", 2071, 411);
    ctx.fillText("schaal = 1 : 10811", 1930, 463.5);

    // voettekst
    ctx.textAlign = "left";
    ctx.font = "16.15px 'Liberation Sans'";
    ctx.fillStyle = "#111";
    ctx.fillText(footerText, 15, 1459);
    ctx.restore();
  },
};

function axisOptions(min, max, every, size, isX) {
  return {
    type: "linear",
    position: isX ? "bottom" : "left",
    min: min,
    max: max,
    afterBuildTicks(scale) {
      if (!isX) scale.ticks = scale.ticks.filter((t) => t.value <= yLastTick);
    },
    afterFit(scale) {
      if (isX) scale.height = size;
      else scale.width = size;
      scale.paddingTop = 0;
      scale.paddingBottom = 0;
      scale.paddingLeft = 0;
      scale.paddingRight = 0;
    },
    grid: { drawOnChartArea: false, drawTicks: true, tickLength: -9, color: "#222", lineWidth: 1 },
    border: { display: false },
    ticks: {
      stepSize: 20,
      autoSkip: false,
      includeBounds: false,
      maxRotation: 0,
      minRotation: 0,
      padding: isX ? 15 : 20,
      color: "#111",
      font: { family: "'Liberation Sans'", size: 16 },
      callback: (v) => (v % every === 0 ? String(v) : ""),
    },
  };
}

new Chart(document.getElementById("kaart"), {
  type: "scatter",
  data: { datasets: datasets },
  options: {
    responsive: false,
    animation: false,
    devicePixelRatio: 1,
    layout: { padding: { left: 0, right: 6, top: 7, bottom: 0 } },
    plugins: { legend: { display: false }, tooltip: { enabled: false } },
    scales: {
      x: axisOptions(204410, 207363, xTickEvery, 45.3, true),
      y: axisOptions(428973.3, 431000.6, yTickEvery, 73.7, false),
    },
  },
  plugins: [kaartPlugin],
});
</script>
</body>
</html>
